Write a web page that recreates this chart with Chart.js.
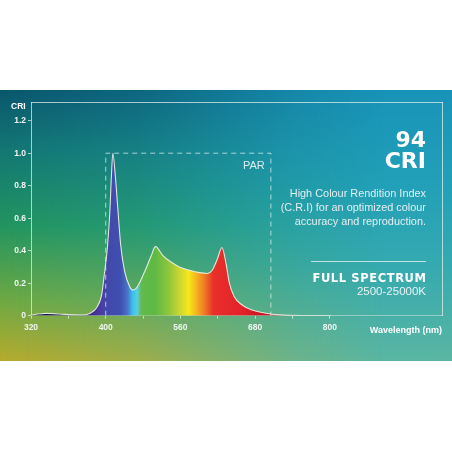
<!DOCTYPE html>
<html><head><meta charset="utf-8">
<script src="https://cdn.jsdelivr.net/npm/chart.js@4"></script>
<style>
html,body{margin:0;padding:0;background:#fff;width:452px;height:452px;overflow:hidden;}
#wrap{position:relative;width:452px;height:452px;}
.bg{position:absolute;left:0;top:90px;width:452px;height:271px;}
#bgR{background:linear-gradient(to bottom,#1893b8 0%,#22a0b8 35%,#35aab0 65%,#5ab6a2 100%);}
#bgL{background:linear-gradient(to bottom,#0a566c 0%,#137672 22%,#22945e 50%,#6fa842 78%,#b6aa2c 100%);
 -webkit-mask-image:linear-gradient(to right,rgba(0,0,0,1) 0%,rgba(0,0,0,0.75) 30%,rgba(0,0,0,0.2) 65%,rgba(0,0,0,0) 85%);
 mask-image:linear-gradient(to right,rgba(0,0,0,1) 0%,rgba(0,0,0,0.75) 30%,rgba(0,0,0,0.2) 65%,rgba(0,0,0,0) 85%);}
canvas{position:absolute;left:0;top:0;}
.t{position:absolute;color:#fff;white-space:nowrap;line-height:1;}
.r{text-align:right;}
#hr{position:absolute;left:311px;width:115px;top:261px;height:1px;background:rgba(235,245,245,0.75);}
</style></head>
<body><div id="wrap">
<div class="bg" id="bgR"></div>
<div class="bg" id="bgL"></div>
<canvas id="c" width="452" height="452"></canvas>
<div class="t" style="left:11px;top:101px;font:bold 8.5px 'Liberation Sans',Arial,sans-serif;">CRI</div>
<div class="t" style="left:243px;top:159px;font:11px 'Liberation Sans',Arial,sans-serif;color:#dcecef;">PAR</div>
<div class="t r" style="right:26px;top:127px;font:bold 22px 'DejaVu Sans',sans-serif;">94</div>
<div class="t r" style="right:26px;top:148px;font:bold 22px 'DejaVu Sans',sans-serif;">CRI</div>
<div class="t r" style="right:26px;top:186px;font:10.9px 'Liberation Sans',Arial,sans-serif;line-height:14px;color:#e2eff1;">High Colour Rendition Index<br>(C.R.I) for an optimized colour<br>accuracy and reproduction.</div>
<div id="hr"></div>
<div class="t r" style="right:26px;top:271px;font:bold 11.5px 'DejaVu Sans',sans-serif;letter-spacing:0.6px;margin-right:-0.6px;">FULL SPECTRUM</div>
<div class="t r" style="right:26px;top:285px;font:11.5px 'Liberation Sans',Arial,sans-serif;color:#e8f3f3;">2500-25000K</div>
<div class="t r" style="right:10px;top:325px;font:bold 9px 'Liberation Sans',Arial,sans-serif;">Wavelength (nm)</div>
</div>
<script>
// x positions are in axis-tick units (tick 0 = "320", each tick step equal width)
const tickLabels = ['320','','400','','560','','680','','800'];
const yTicks = [0,0.2,0.4,0.6,0.8,1.0,1.2];
const yTickLabels = ['0','0.2','0.4','0.6','0.8','1.0','1.2'];

const spectrumX = [0.00,0.19,0.40,0.61,0.83,1.09,1.36,1.57,1.75,1.89,1.95,2.05,2.11,2.15,2.19,2.26,2.33,2.40,2.51,2.64,2.73,2.85,3.04,3.22,3.33,3.53,3.75,3.97,4.24,4.51,4.72,4.85,4.99,5.11,5.22,5.31,5.44,5.65,5.92,6.29,6.64,6.91,7.44,8.03];
const spectrumY = [0.004,0.010,0.014,0.013,0.009,0.005,0.004,0.014,0.047,0.127,0.23,0.435,0.64,0.85,1.0,0.85,0.64,0.435,0.27,0.18,0.158,0.18,0.27,0.37,0.425,0.37,0.33,0.30,0.28,0.265,0.26,0.28,0.35,0.42,0.32,0.20,0.117,0.066,0.035,0.015,0.005,0.002,0.001,0.0];

const parX = [2, 2, 6.42, 6.42];
const parY = [0, 1.0, 1.0, 0];

// style: rainbow colour stops (position in tick units, colour)
const rainbowPos = [0, 1.0, 1.55, 1.85, 2.0, 2.4, 2.58, 2.72, 2.84, 2.95, 3.3, 3.7, 4.0, 4.22, 4.45, 4.66, 4.88, 5.6, 6.2, 6.9, 8.03];
const rainbowCol = ['#0d1430','#171a48','#3b2a7c','#4a3aa2','#4447aa','#3f50b0','#4a72c8','#3cc0ee','#58cfe6','#62bb4c','#5db845','#92c63a','#cfd830','#f6e81a','#f4ae20','#ef7626','#e8302a','#e4222a','#c8161e','#921019','#6a0b12'];

const spectrumData = spectrumX.map((x,i)=>({x, y: spectrumY[i]}));
const parData = parX.map((x,i)=>({x, y: parY[i]}));

function rainbow(ctx){
  const chart = ctx.chart;
  const {chartArea, scales} = chart;
  if(!chartArea) return '#4447aa';
  const x0 = scales.x.getPixelForValue(rainbowPos[0]);
  const x1 = scales.x.getPixelForValue(rainbowPos[rainbowPos.length-1]);
  const g = chart.ctx.createLinearGradient(x0,0,x1,0);
  const span = rainbowPos[rainbowPos.length-1]-rainbowPos[0];
  rainbowPos.forEach((p,i)=>g.addColorStop((p-rainbowPos[0])/span, rainbowCol[i]));
  return g;
}

const axisCol = 'rgba(235,245,240,0.7)';
const tickFont = {family:"'Liberation Sans', Arial, sans-serif", size:8.5, weight:'bold'};

new Chart(document.getElementById('c'), {
  type:'line',
  data:{datasets:[
    {data:parData, borderColor:'rgba(235,245,245,0.7)', borderWidth:1, borderDash:[5,4], pointRadius:0, fill:false, tension:0},
    {data:spectrumData, borderColor:'rgba(240,244,232,0.9)', borderWidth:1.1, backgroundColor:rainbow, fill:'origin', pointRadius:0, cubicInterpolationMode:'monotone'}
  ]},
  options:{
    responsive:false, animation:false, events:[],
    layout:{padding:{top:102,left:0,right:0,bottom:0}},
    plugins:{legend:{display:false}, tooltip:{enabled:false}},
    scales:{
      x:{type:'linear', position:'bottom', min:0, max:11,
        afterFit:s=>{s.height=452-315.7;},
        afterBuildTicks:s=>{s.ticks = tickLabels.map((l,i)=>({value:i}));},
        ticks:{autoSkip:false, maxRotation:0, padding:4, color:'#eef6f2', font:tickFont, callback:(v)=>tickLabels[v] ?? ''},
        grid:{display:true, drawOnChartArea:false, drawTicks:true, tickLength:3, color:axisCol},
        border:{display:true, color:'rgba(235,245,240,0.45)', width:1}
      },
      x2:{type:'linear', position:'top', min:0, max:11, display:true,
        afterFit:s=>{s.height=0;},
        ticks:{display:false}, grid:{display:false, drawTicks:false},
        border:{display:true, color:axisCol, width:1}
      },
      y:{type:'linear', position:'left', min:0, max:1.315,
        afterFit:s=>{s.width=31;},
        afterBuildTicks:s=>{s.ticks = yTicks.map(v=>({value:v}));},
        ticks:{padding:2, color:'#eef6f2', font:tickFont, callback:(v)=>{const i=yTicks.findIndex(t=>Math.abs(t-v)<1e-6); return i>=0?yTickLabels[i]:'';}},
        grid:{display:true, drawOnChartArea:false, drawTicks:true, tickLength:3, color:axisCol},
        border:{display:true, color:axisCol, width:1}
      },
      y2:{type:'linear', position:'right', min:0, max:1.315, display:true,
        afterFit:s=>{s.width=10;},
        ticks:{display:false}, grid:{display:false, drawTicks:false},
        border:{display:true, color:axisCol, width:1}
      }
    }
  }
});
</script>
</body></html>
